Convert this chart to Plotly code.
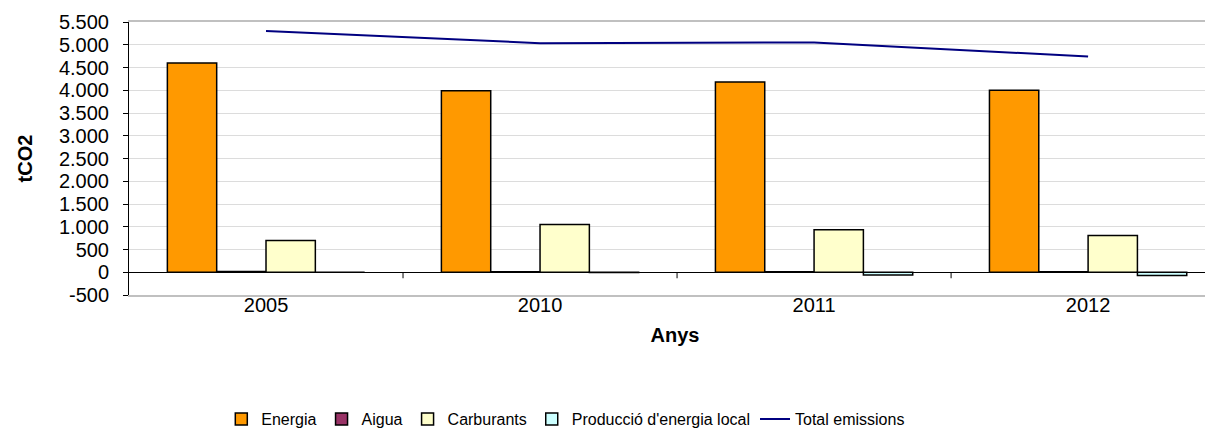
import plotly.graph_objects as go

# Dades llegides del gràfic
anys = ["2005", "2010", "2011", "2012"]
energia = [4600, 3990, 4180, 4000]
aigua = [15, 12, 12, 12]
carburants = [700, 1050, 935, 805]
produccio = [0, -5, -60, -70]
total_emissions = [5300, 5035, 5050, 4740]

y_ticks = list(range(-500, 5501, 500))
y_tick_text = [f"{v:,}".replace(",", ".") for v in y_ticks]

FONT = "Liberation Sans, Arial, sans-serif"

fig = go.Figure()

bar_series = [
    ("Energia", energia, "#ff9900"),
    ("Aigua", aigua, "#993366"),
    ("Carburants", carburants, "#ffffcc"),
    ("Producció d'energia local", produccio, "#ccffff"),
]
for name, values, color in bar_series:
    fig.add_trace(
        go.Bar(
            x=anys,
            y=values,
            name=name,
            marker=dict(color=color, line=dict(color="#000000", width=1.5)),
        )
    )

fig.add_trace(
    go.Scatter(
        x=anys,
        y=total_emissions,
        mode="lines",
        name="Total emissions",
        line=dict(color="#000080", width=2),
    )
)

# petites marques a l'eix de categories (a y = 0), entre anys
for i in range(len(anys) - 1):
    fig.add_shape(
        type="line",
        xref="x", yref="y",
        x0=i + 0.5, x1=i + 0.5,
        ysizemode="pixel", yanchor=0,
        y0=0, y1=-6,
        line=dict(color="#000000", width=1),
    )

fig.update_layout(
    width=1213,
    height=428,
    margin=dict(l=121, r=0, t=14, b=140),
    paper_bgcolor="white",
    plot_bgcolor="white",
    font=dict(family=FONT, size=20, color="#000000"),
    barmode="group",
    bargap=0.28,
    bargroupgap=0,
    legend=dict(
        orientation="h",
        x=0.4, xanchor="center",
        y=-0.453, yanchor="middle",
        font=dict(size=16),
        traceorder="normal",
        itemwidth=30,
    ),
)

fig.update_xaxes(
    range=[-0.5, 3.485],
    automargin=False,
    showgrid=False,
    showline=True,
    linecolor="#c0c0c0",
    linewidth=2,
    mirror=True,
    ticks="",
    ticklabelstandoff=-9,
    tickfont=dict(size=20),
    title=dict(text="<b>Anys</b>", font=dict(size=20), standoff=13),
)

fig.update_yaxes(
    range=[-500, 5500],
    automargin=False,
    tickvals=y_ticks,
    ticktext=y_tick_text,
    showgrid=True,
    gridcolor="#dcdcdc",
    gridwidth=1,
    zeroline=True,
    zerolinecolor="#000000",
    zerolinewidth=1,
    showline=True,
    linecolor="#000000",
    linewidth=1,
    ticks="outside",
    ticklen=5,
    tickcolor="#000000",
    ticklabelstandoff=10,
    tickfont=dict(size=20),
    title=dict(text="<b>tCO2</b>", font=dict(size=20), standoff=20),
)

fig.write_html("out.html")
